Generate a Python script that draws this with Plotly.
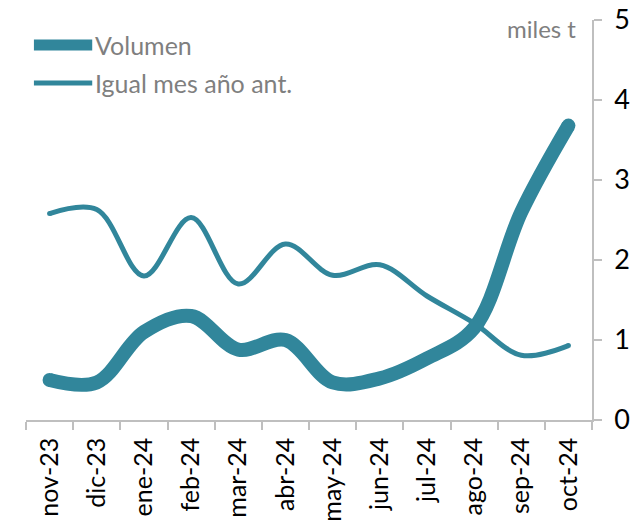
import plotly.graph_objects as go

# Monthly volume (thousand tonnes) vs. the same month one year earlier
months = ["nov-23", "dic-23", "ene-24", "feb-24", "mar-24", "abr-24",
          "may-24", "jun-24", "jul-24", "ago-24", "sep-24", "oct-24"]
volumen = [0.50, 0.47, 1.10, 1.30, 0.88, 1.00, 0.47, 0.52, 0.77, 1.15, 2.60, 3.68]
igual_mes_ano_ant = [2.58, 2.63, 1.80, 2.53, 1.70, 2.20, 1.81, 1.94, 1.55, 1.21, 0.81, 0.93]

series_names = ["Volumen", "Igual mes año ant."]
y_ticks = [0, 1, 2, 3, 4, 5]
unit_label = "miles t"

TEAL = "#31869B"
GRAY_TEXT = "#7F7F7F"
AXIS_GRAY = "#BFBFBF"
FONT = "Lato"

fig = go.Figure()


def end_caps(n, size):
    # round the line ends with a dot at the first and last point
    return [size] + [0] * (n - 2) + [size]


for values, name, width in [(igual_mes_ano_ant, series_names[1], 5),
                            (volumen, series_names[0], 14)]:
    fig.add_trace(go.Scatter(
        x=months, y=values, name=name,
        mode="lines+markers",
        line=dict(color=TEAL, width=width, shape="spline", smoothing=1),
        marker=dict(color=TEAL, opacity=1, size=end_caps(len(months), width),
                    line=dict(width=0, color=TEAL)),
        showlegend=False, hoverinfo="x+y",
    ))

# Hand-built legend in the top-left corner
legend_items = [(series_names[0], 11, 0.9375), (series_names[1], 5, 0.8425)]
for label, width, ypos in legend_items:
    fig.add_shape(type="line", xref="paper", yref="paper",
                  x0=0.014, x1=0.117, y0=ypos, y1=ypos,
                  line=dict(color=TEAL, width=width))
    fig.add_annotation(xref="paper", yref="paper", x=0.122, y=ypos,
                       text=label, showarrow=False, xanchor="left", yanchor="middle",
                       xshift=-2, font=dict(family=FONT, size=25, color=GRAY_TEXT))

fig.add_annotation(xref="paper", yref="paper", x=0.975, y=0.98,
                   text=unit_label, showarrow=False, xanchor="right", yanchor="middle",
                   font=dict(family=FONT, size=24, color=GRAY_TEXT))

fig.update_layout(
    width=637, height=529,
    margin=dict(l=26, r=45, t=20, b=109),
    paper_bgcolor="white", plot_bgcolor="white",
    font=dict(family=FONT, color="black"),
    showlegend=False,
    xaxis=dict(
        type="category", categoryorder="array", categoryarray=months,
        range=[-0.5, len(months) - 0.5],
        automargin=False,
        showgrid=False, zeroline=False,
        showline=True, linecolor=AXIS_GRAY, linewidth=1.5,
        ticks="outside", tickson="boundaries", ticklen=8, tickcolor=AXIS_GRAY,
        tickwidth=1.5, ticklabelstandoff=6,
        tickangle=-90, tickfont=dict(family=FONT, size=25, color="black"),
    ),
    yaxis=dict(
        side="right", range=[0, 5], tickvals=y_ticks,
        automargin=False,
        showgrid=False, zeroline=False,
        showline=True, linecolor=AXIS_GRAY, linewidth=1.5,
        ticks="outside", ticklen=8, tickcolor=AXIS_GRAY, tickwidth=1.5,
        ticklabelstandoff=7,
        tickfont=dict(family=FONT, size=27, color="black"),
    ),
)

fig.write_html("out.html")
